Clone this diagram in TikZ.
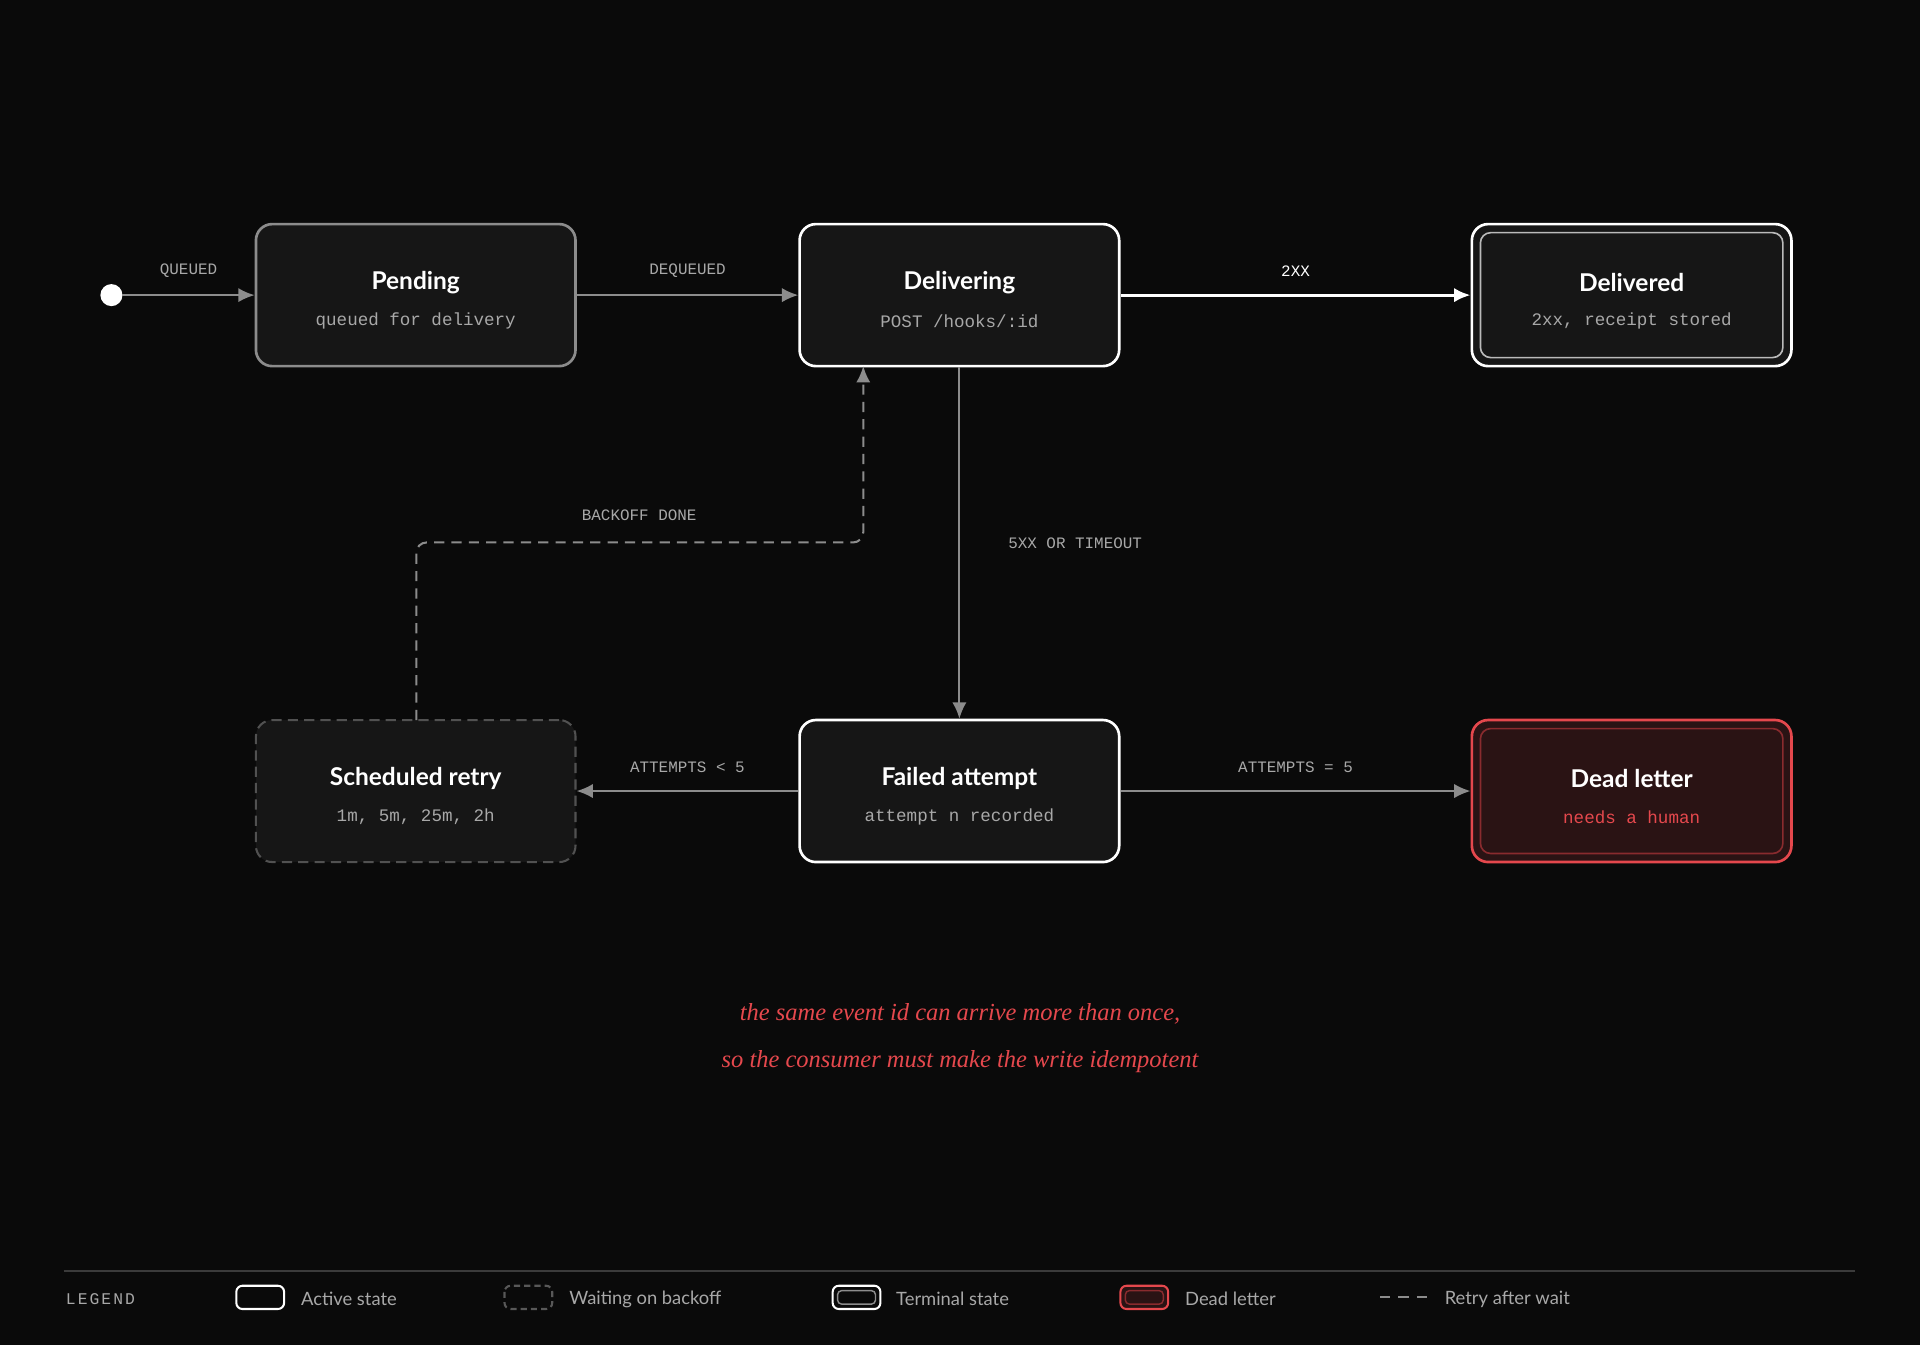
\documentclass[tikz,border=0pt]{standalone}
\usepackage{fontspec}
\setmainfont{Liberation Serif}
\setsansfont{Lato}
\setmonofont{Liberation Mono}
\usetikzlibrary{arrows.meta}
\definecolor{bg}{HTML}{0A0A0A}
\definecolor{boxfill}{HTML}{161616}
\definecolor{gline}{HTML}{8C8C8C}
\definecolor{glab}{HTML}{A8A8A8}
\definecolor{redc}{HTML}{E5484D}
\definecolor{redfill}{HTML}{2A1314}
\begin{document}
\begin{tikzpicture}[x=0.6pt,y=-0.6pt,
  state/.style={draw=white,line width=1.3pt,fill=boxfill,rounded corners=8pt,minimum width=156.6pt,minimum height=69.6pt,inner sep=0pt},
  title/.style={font=\sffamily\bfseries\fontsize{12}{14}\selectfont,text=white},
  sub/.style={font=\ttfamily\fontsize{8.6}{10}\selectfont,text=glab},
  lab/.style={font=\ttfamily\fontsize{7.8}{9}\selectfont,text=glab},
  conn/.style={draw=gline,line width=1pt,-{Latex[length=8pt,width=7pt]}},
  leg/.style={font=\sffamily\fontsize{9}{11}\selectfont,text=glab,anchor=west}]
\fill[bg] (0,0) rectangle (1568,1098);
\useasboundingbox (0,0) rectangle (1568,1098);
% states
\node[state,draw=gline] (pend) at (339.5,241) {};
\node[title] at (339.5,231) {Pending};
\node[sub] at (339.5,262) {queued for delivery};
\node[state] (deliv) at (783.5,241) {};
\node[title] at (783.5,231) {Delivering};
\node[sub] at (783.5,262) {POST /hooks/:id};
\node[state] (done) at (1332.5,241) {};
\draw[gline!60,line width=0.8pt,rounded corners=5pt] (1209,190) rectangle (1456,292);
\node[title] at (1332.5,231) {Delivered};
\node[sub] at (1332.5,262) {2xx, receipt stored};
\node[state,draw=gline!55!bg,dashed,dash pattern=on 5pt off 3pt,line width=1pt] (retry) at (339.5,646) {};
\node[title] at (339.5,636) {Scheduled retry};
\node[sub] at (339.5,667) {1m, 5m, 25m, 2h};
\node[state] (fail) at (783.5,646) {};
\node[title] at (783.5,636) {Failed attempt};
\node[sub] at (783.5,667) {attempt n recorded};
\node[state,draw=redc,fill=redfill] (dead) at (1332.5,646) {};
\draw[redc!60!black,line width=0.8pt,rounded corners=5pt] (1209,595) rectangle (1456,697);
\node[title] at (1332.5,636) {Dead letter};
\node[sub,text=redc] at (1332.5,667) {needs a human};
% start
\fill[white] (91,241) circle (9);
\coordinate (s) at (100,241);
% connectors
\draw[conn] (s) -- node[lab,above=5pt] {QUEUED} (pend.west);
\draw[conn] (pend.east) -- node[lab,above=5pt] {DEQUEUED} (deliv.west);
\draw[conn,draw=white,line width=1.5pt] (deliv.east) -- node[lab,text=white,above=5pt] {2XX} (done.west);
\draw[conn] (deliv.south) -- (fail.north);
\node[lab] at (878,444) {5XX OR TIMEOUT};
\draw[conn] (fail.west) -- node[lab,above=5pt] {ATTEMPTS < 5} (retry.east);
\draw[conn] (fail.east) -- node[lab,above=5pt] {ATTEMPTS = 5} (dead.west);
\coordinate (rt) at (340,588);
\coordinate (dt) at (705,299);
\draw[conn,dash pattern=on 5pt off 3.5pt,rounded corners=5pt] (rt) -- (340,443) -- (705,443) -- (dt);
\node[lab] at (522,421) {BACKOFF DONE};
% note
\node[font=\itshape\fontsize{12}{14}\selectfont,text=redc] at (784,828) {the same event id can arrive more than once,};
\node[font=\itshape\fontsize{12}{14}\selectfont,text=redc] at (784,867) {so the consumer must make the write idempotent};
% legend
\draw[white!20!bg,line width=0.8pt] (52,1038) -- (1515,1038);
\node[font=\ttfamily\fontsize{8}{9}\selectfont,text=glab,anchor=west] at (48,1061) {L\kern1pt E\kern1pt G\kern1pt E\kern1pt N\kern1pt D};
\draw[white,line width=1pt,rounded corners=3pt] (193,1050) rectangle (232,1069);
\node[leg] at (240,1061) {Active state};
\draw[gline!60!bg,dashed,dash pattern=on 3pt off 2pt,line width=1pt,rounded corners=3pt] (412,1050) rectangle (451,1069);
\node[leg] at (459,1061) {Waiting on backoff};
\draw[white,line width=1pt,rounded corners=3pt] (680,1050) rectangle (719,1069);
\draw[gline,line width=0.7pt,rounded corners=2pt] (684,1054) rectangle (715,1065);
\node[leg] at (726,1061) {Terminal state};
\draw[redc,fill=redfill,line width=1pt,rounded corners=3pt] (915,1050) rectangle (954,1069);
\draw[redc!60!black,line width=0.7pt,rounded corners=2pt] (919,1054) rectangle (950,1065);
\node[leg] at (962,1061) {Dead letter};
\draw[gline,line width=1pt,dash pattern=on 5pt off 4pt] (1127,1059) -- (1166,1059);
\node[leg] at (1174,1061) {Retry after wait};
\end{tikzpicture}
\end{document}
